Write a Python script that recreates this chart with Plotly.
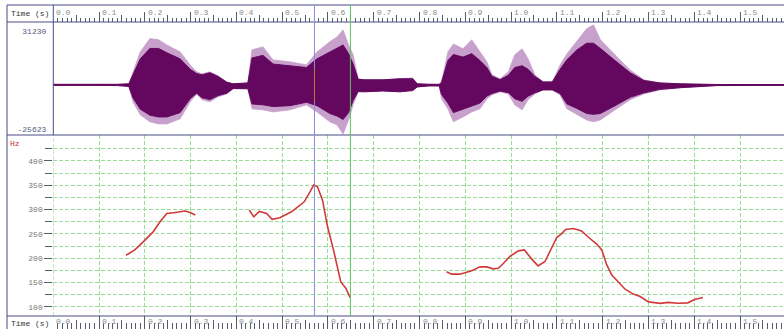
import plotly.graph_objects as go

# ---- data -------------------------------------------------------------
# waveform envelope (time in s, amplitude in sample units)
wave_t = [0.000, 0.050, 0.100, 0.140, 0.165, 0.174, 0.190, 0.211, 0.230, 0.248,
          0.277, 0.299, 0.313, 0.325, 0.342, 0.360, 0.379, 0.393, 0.410, 0.425,
          0.434, 0.458, 0.480, 0.517, 0.553, 0.576, 0.604, 0.620, 0.633, 0.645,
          0.655, 0.666, 0.680, 0.720, 0.757, 0.785, 0.795, 0.820, 0.843, 0.848,
          0.862, 0.874, 0.895, 0.914, 0.932, 0.947, 0.958, 0.976, 0.994, 1.008,
          1.024, 1.037, 1.052, 1.070, 1.090, 1.107, 1.122, 1.143, 1.165, 1.180,
          1.195, 1.227, 1.260, 1.290, 1.325, 1.370, 1.410, 1.450, 1.600]
peak_upper = [300, 200, 400, 300, 600, 7500, 19000, 26700, 26000, 23000,
              19000, 11500, 7500, 6300, 7500, 5200, 1700, 600, 750, 1150,
              20200, 21900, 14400, 13300, 11500, 19000, 24800, 27700, 31700, 23000,
              17300, 3500, 2900, 2900, 3500, 4000, 600, 300, 300, 1700,
              19000, 23600, 20800, 26000, 19000, 13300, 5800, 3500, 7500, 17300,
              20800, 15000, 5800, 1700, 1700, 11500, 17900, 24800, 32300, 34600,
              26000, 17300, 8600, 2900, 1150, 600, 300, 200, 200]
peak_lower = [-300, -500, -300, -400, -900, -9800, -17300, -21300, -22500, -22500,
              -19600, -9800, -5200, -8600, -9800, -6900, -5200, -2300, -2100, -2300,
              -13800, -14400, -15600, -14400, -11500, -15600, -21300, -23100, -28300, -20200,
              -11500, -4000, -4000, -3500, -4000, -3500, -1200, -600, -600, -8100,
              -13800, -21300, -18500, -15600, -13800, -8100, -5800, -4000, -5200, -11500,
              -14400, -8600, -5200, -2900, -2900, -5800, -13800, -16700, -20200, -21300,
              -20200, -14400, -8600, -5200, -2900, -1700, -900, -400, -300]
core_upper = [300, 200, 400, 300, 600, 6000, 15000, 21000, 21000, 18500,
              15000, 9000, 6500, 5800, 7000, 4800, 1500, 600, 750, 1100,
              15500, 17000, 12000, 11000, 10000, 15000, 19000, 21000, 23000, 18000,
              12000, 3200, 2900, 2900, 3500, 3500, 600, 300, 300, 1500,
              14000, 17500, 16000, 18000, 14000, 10000, 5000, 3000, 5500, 10000,
              11000, 9000, 4800, 1700, 1700, 9000, 14500, 20000, 24000, 24000,
              21000, 14000, 7000, 2500, 1100, 600, 300, 200, 200]
core_lower = [-300, -500, -300, -400, -900, -7500, -14000, -17500, -18500, -18500,
              -16000, -8000, -4800, -7500, -8500, -6200, -4800, -2100, -2000, -2200,
              -11000, -11500, -12500, -12000, -10000, -12000, -16500, -18000, -20000, -16000,
              -9000, -3800, -4000, -3500, -4000, -3200, -1200, -600, -600, -5500,
              -10500, -16000, -14000, -12000, -10500, -6500, -5000, -3600, -4500, -8000,
              -9500, -6500, -4600, -2900, -2900, -5000, -11000, -13500, -16500, -17000,
              -16500, -12000, -7200, -4600, -2600, -1600, -900, -400, -300]
wave_max = 31230
wave_min = -25623

# pitch contour (Hz); None separates voiced stretches
pitch_t = [0.159, 0.178, 0.197, 0.218, 0.233, 0.248, 0.266, 0.288, 0.299, 0.310,
           None,
           0.428, 0.438, 0.450, 0.466, 0.478, 0.495, 0.521, 0.548, 0.561, 0.569,
           0.577, 0.588, 0.599, 0.612, 0.628, 0.639, 0.648,
           None,
           0.859, 0.870, 0.888, 0.903, 0.914, 0.932, 0.947, 0.961, 0.972, 0.983,
           0.998, 1.016, 1.029, 1.045, 1.059, 1.074, 1.089, 1.100, 1.110, 1.119,
           1.136, 1.154, 1.169, 1.187, 1.198, 1.209, 1.220, 1.234, 1.249, 1.267,
           1.282, 1.300, 1.326, 1.343, 1.364, 1.386, 1.401, 1.419]
pitch_hz = [206, 217, 234, 254, 275, 292, 294, 297, 294, 289,
            None,
            299, 285, 296, 292, 280, 283, 296, 316, 337, 351,
            347, 320, 265, 217, 151, 138, 119,
            None,
            172, 167, 167, 172, 174, 182, 182, 178, 179, 189,
            204, 215, 217, 198, 184, 193, 220, 243, 250, 259,
            261, 256, 243, 229, 217, 186, 165, 151, 136, 126,
            121, 110, 107, 109, 107, 108, 115, 119]

hz_ticks = [100, 150, 200, 250, 300, 350, 400]
hz_minor = [125, 175, 225, 275, 325, 375, 425]
ruler_ticks = [round(0.1 * i, 1) for i in range(16)]
cursor_time = 0.5705
selection_end = 0.649

# ---- geometry helpers (window is 784 x 329 px) ------------------------
W, H = 784, 329
def px(x):
    return x / W
def py(y):
    return (H - y) / H

T_MAX = 1.5961
X0 = px(53.3)

MONO = "Liberation Mono"
FRAME = "#4a4a88"
GRID = "#98dc98"
TICK = "#5a5a6e"
LIGHT = "#c8a0cc"
DARK = "#64085f"

fig = go.Figure()

# waveform: outer (light) and inner (dark) envelopes
fig.add_trace(go.Scatter(x=wave_t, y=peak_upper, xaxis="x2", yaxis="y2", mode="lines",
                         line=dict(color=LIGHT, width=0.8), hoverinfo="skip"))
fig.add_trace(go.Scatter(x=wave_t, y=peak_lower, xaxis="x2", yaxis="y2", mode="lines",
                         line=dict(color=LIGHT, width=0.8), fill="tonexty",
                         fillcolor=LIGHT, hoverinfo="skip"))
fig.add_trace(go.Scatter(x=wave_t, y=core_upper, xaxis="x2", yaxis="y2", mode="lines",
                         line=dict(color=DARK, width=1), hoverinfo="skip"))
fig.add_trace(go.Scatter(x=wave_t, y=core_lower, xaxis="x2", yaxis="y2", mode="lines",
                         line=dict(color=DARK, width=1), fill="tonexty",
                         fillcolor=DARK, hoverinfo="skip"))

# pitch contour
fig.add_trace(go.Scatter(x=pitch_t, y=pitch_hz, xaxis="x", yaxis="y", mode="lines",
                         line=dict(color="#d23a3a", width=1.6), connectgaps=False,
                         hoverinfo="skip"))

# placeholders so the ruler axes are laid out
for xa, ya in (("x3", "y3"), ("x4", "y3"), ("x5", "y4"), ("x6", "y4")):
    fig.add_trace(go.Scatter(x=[0.0], y=[0.5], xaxis=xa, yaxis=ya, mode="markers",
                             marker=dict(opacity=0), hoverinfo="skip"))

tickfont = dict(family=MONO, size=8, color="#777777")
ruler_common = dict(domain=[X0, 1], range=[0, T_MAX], showticklabels=False,
                    showgrid=False, showline=False, zeroline=False, fixedrange=True)

layout = dict(
    width=W, height=H, margin=dict(l=0, r=0, t=0, b=0),
    paper_bgcolor="white", plot_bgcolor="white", showlegend=False,
    # pitch panel
    xaxis=dict(domain=[X0, 1], range=[0, T_MAX], anchor="y", showgrid=True,
               gridcolor=GRID, griddash="4px,2px", gridwidth=1, dtick=0.1, tick0=0,
               showticklabels=False, ticks="", showline=False, zeroline=False),
    yaxis=dict(domain=[py(316), py(135)], range=[80.9, 453.5], anchor="x",
               tickvals=hz_ticks, ticks="outside", ticklen=8, tickcolor=TICK,
               tickfont=tickfont, showgrid=True, gridcolor=GRID, griddash="4px,2px",
               minor=dict(tickvals=hz_minor, ticks="outside", ticklen=7,
                          tickcolor=TICK, showgrid=True, gridcolor=GRID,
                          griddash="4px,2px"),
               showline=False, zeroline=False),
    # waveform panel
    xaxis2=dict(domain=[X0, 1], range=[0, T_MAX], anchor="y2", showgrid=False,
                showticklabels=False, ticks="", showline=False, zeroline=False),
    yaxis2=dict(domain=[py(135), py(22)],
                range=[wave_min - 5.7 * 576.6, wave_max + 8.7 * 576.6], anchor="x2",
                tickvals=[wave_min, wave_max], ticktext=[str(wave_min), str(wave_max)],
                ticks="", ticklabelstandoff=6,
                tickfont=dict(family=MONO, size=8, color="#5a5a7a"),
                showgrid=False, showline=False, zeroline=False),
    # top ruler
    xaxis3=dict(anchor="y3", ticks="inside", dtick=0.1, tick0=0, ticklen=10,
                tickcolor=TICK,
                minor=dict(dtick=0.01, ticks="inside", ticklen=4, tickcolor=TICK),
                **ruler_common),
    xaxis4=dict(anchor="y3", overlaying="x3", ticks="inside", dtick=0.1, tick0=0.05,
                ticklen=7, tickcolor=TICK, **ruler_common),
    yaxis3=dict(domain=[py(22), py(5)], range=[0, 1], visible=False, fixedrange=True),
    # bottom ruler
    xaxis5=dict(anchor="y4", ticks="inside", dtick=0.1, tick0=0, ticklen=13,
                tickcolor=TICK,
                minor=dict(dtick=0.01, ticks="inside", ticklen=6, tickcolor=TICK),
                **ruler_common),
    xaxis6=dict(anchor="y4", overlaying="x5", ticks="inside", dtick=0.1, tick0=0.05,
                ticklen=9, tickcolor=TICK, **ruler_common),
    yaxis4=dict(domain=[0, py(316)], range=[0, 1], visible=False, fixedrange=True),
)
fig.update_layout(**layout)

# grid line along the left edge of the pitch panel
fig.add_shape(type="line", xref="x", yref="paper", x0=0, x1=0, y0=py(316), y1=py(135),
              line=dict(color=GRID, width=1, dash="4px,2px"))

# frame lines
frame = [
    (px(7), py(5), 1, py(5)),
    (px(7), py(22), 1, py(22)),
    (px(7), py(135), 1, py(135)),
    (px(7), py(316), 1, py(316)),
    (px(7), py(5), px(7), 0),
    (X0, py(5), X0, py(135)),
]
for x0, y0, x1, y1 in frame:
    fig.add_shape(type="line", xref="paper", yref="paper", x0=x0, y0=y0, x1=x1, y1=y1,
                  line=dict(color=FRAME, width=1))

# cursor and selection boundary
fig.add_shape(type="line", xref="x", yref="paper", x0=cursor_time, x1=cursor_time,
              y0=py(316), y1=py(5), line=dict(color="#8c8cd8", width=1))
fig.add_shape(type="line", xref="x", yref="paper", x0=selection_end, x1=selection_end,
              y0=py(316), y1=py(5), line=dict(color="#5cc45c", width=1))
fig.add_shape(type="line", xref="x2", yref="y2", x0=cursor_time, x1=cursor_time,
              y0=-9800, y1=9400, line=dict(color="#b07830", width=1))

# ruler labels
for t in ruler_ticks:
    for ylab in (13, 321):
        fig.add_annotation(x=t, y=py(ylab), xref="x", yref="paper", text=f"{t:.1f}",
                           showarrow=False, xanchor="left", yanchor="middle", xshift=1,
                           bgcolor="rgba(255,255,255,0)",
                           font=dict(family=MONO, size=8, color="#8a8a8a"))

for ylab in (14, 323):
    fig.add_annotation(x=px(9), y=py(ylab), xref="paper", yref="paper", text="Time (s)",
                       showarrow=False, xanchor="left", yanchor="middle",
                       font=dict(family=MONO, size=8, color="#333333"))

fig.add_annotation(x=px(8), y=py(144), xref="paper", yref="paper", text="Hz",
                   showarrow=False, xanchor="left", yanchor="middle",
                   font=dict(family=MONO, size=8, color="#cc3030"))

fig.write_html("out.html")
